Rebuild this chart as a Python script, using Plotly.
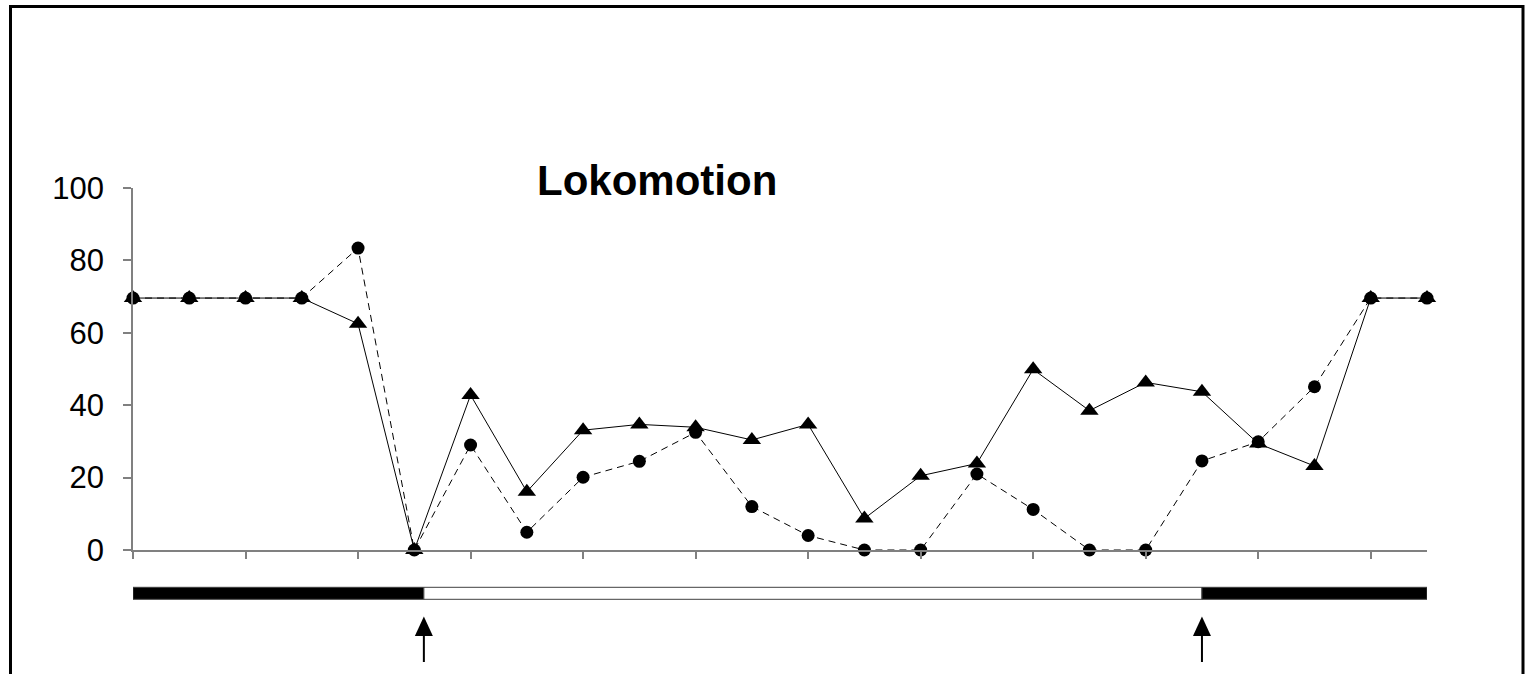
import plotly.graph_objects as go

# ---- data ----
x_idx = list(range(24))
triangles = [69.6, 69.6, 69.6, 69.6, 62.5, 0, 42.8, 16.1, 33.1, 34.7, 33.9, 30.4,
             34.7, 8.7, 20.5, 23.9, 49.9, 38.5, 46.3, 43.7, 29.4, 23.2, 69.6, 69.6]
circles = [69.6, 69.6, 69.6, 69.6, 83.4, 0, 29.0, 4.9, 20.1, 24.5, 32.5, 12.0,
           4.0, 0, 0, 21.0, 11.2, 0, 0, 24.6, 29.9, 45.1, 69.6, 69.6]
y_ticks = [0, 20, 40, 60, 80, 100]
x_ticks = list(range(0, 24, 2))
phase_bounds = [0, 5.17, 19, 23]          # dark / light / dark phases
phase_colors = ["black", "white", "black"]
arrow_x = [5.17, 19]
stray_dot_x = [1.14]
stray_dot_y = [-3.7]
title = "Lokomotion"

W, H = 1531, 674
L, R, T, B = 133, 104, 188, 124
plot_h = H - T - B
plot_w = W - L - R


def py(px_y):
    """pixel y -> paper y"""
    return (H - B - px_y) / plot_h


def px(px_x):
    return (px_x - L) / plot_w


fig = go.Figure()
fig.add_trace(go.Scatter(
    x=x_idx, y=triangles, mode="lines+markers", cliponaxis=False,
    line=dict(color="black", width=1),
    marker=dict(symbol="triangle-up", size=16, color="black"),
    showlegend=False, hoverinfo="skip"))
fig.add_trace(go.Scatter(
    x=x_idx, y=circles, mode="lines+markers", cliponaxis=False,
    line=dict(color="black", width=1, dash="7px,5px"),
    marker=dict(symbol="circle", size=13, color="black"),
    showlegend=False, hoverinfo="skip"))
fig.add_trace(go.Scatter(
    x=stray_dot_x, y=stray_dot_y, mode="markers", cliponaxis=False,
    marker=dict(symbol="square", size=3, color="black"), showlegend=False,
    hoverinfo="skip"))

shapes = []
# phase bar
for i, c in enumerate(phase_colors):
    shapes.append(dict(type="rect", xref="x", yref="paper",
                       x0=phase_bounds[i], x1=phase_bounds[i + 1],
                       y0=py(599.3), y1=py(587.3),
                       fillcolor=c, line=dict(color="#404040", width=1)))
# arrows
xr = 23 / plot_w  # data units per pixel
for ax in arrow_x:
    shapes.append(dict(type="line", xref="x", yref="paper",
                       x0=ax, x1=ax, y0=py(662), y1=py(634),
                       line=dict(color="black", width=2)))
    hw = 9 * xr
    shapes.append(dict(type="path", xref="x", yref="paper",
                       path=f"M {ax - hw} {py(636)} L {ax + hw} {py(636)} L {ax} {py(616.5)} Z",
                       fillcolor="black", line=dict(color="black", width=0)))
# outer frame
shapes.append(dict(type="rect", xref="paper", yref="paper",
                   x0=px(10.5), x1=px(1523), y0=py(690), y1=py(6.5),
                   line=dict(color="black", width=3), fillcolor="rgba(0,0,0,0)"))

fig.update_layout(
    width=W, height=H,
    margin=dict(l=L, r=R, t=T, b=B, autoexpand=False),
    paper_bgcolor="white", plot_bgcolor="white",
    font=dict(family="Liberation Sans, Arial, sans-serif", color="black"),
    shapes=shapes,
    annotations=[dict(text=f"<b>{title}</b>", xref="paper", yref="paper",
                      x=px(657), y=py(180), xanchor="center", yanchor="middle",
                      showarrow=False, font=dict(size=42, color="black"))],
    xaxis=dict(range=[0, 23], showgrid=False, zeroline=False, showline=True,
               linecolor="#808080", linewidth=1.5, ticks="outside", ticklen=7,
               tickcolor="#808080", tickwidth=1.5, tickvals=x_ticks,
               showticklabels=False),
    yaxis=dict(range=[0, 100], showgrid=False, zeroline=False, showline=True,
               linecolor="#808080", linewidth=1.5, ticks="outside", ticklen=8,
               tickcolor="#808080", tickwidth=1.5, tickvals=y_ticks,
               tickfont=dict(size=31, color="black"), ticklabelstandoff=13),
)

fig.write_html("out.html", config={"displayModeBar": False},
               post_script="document.body.style.margin='0';"
                           "document.body.style.overflow='hidden';")
